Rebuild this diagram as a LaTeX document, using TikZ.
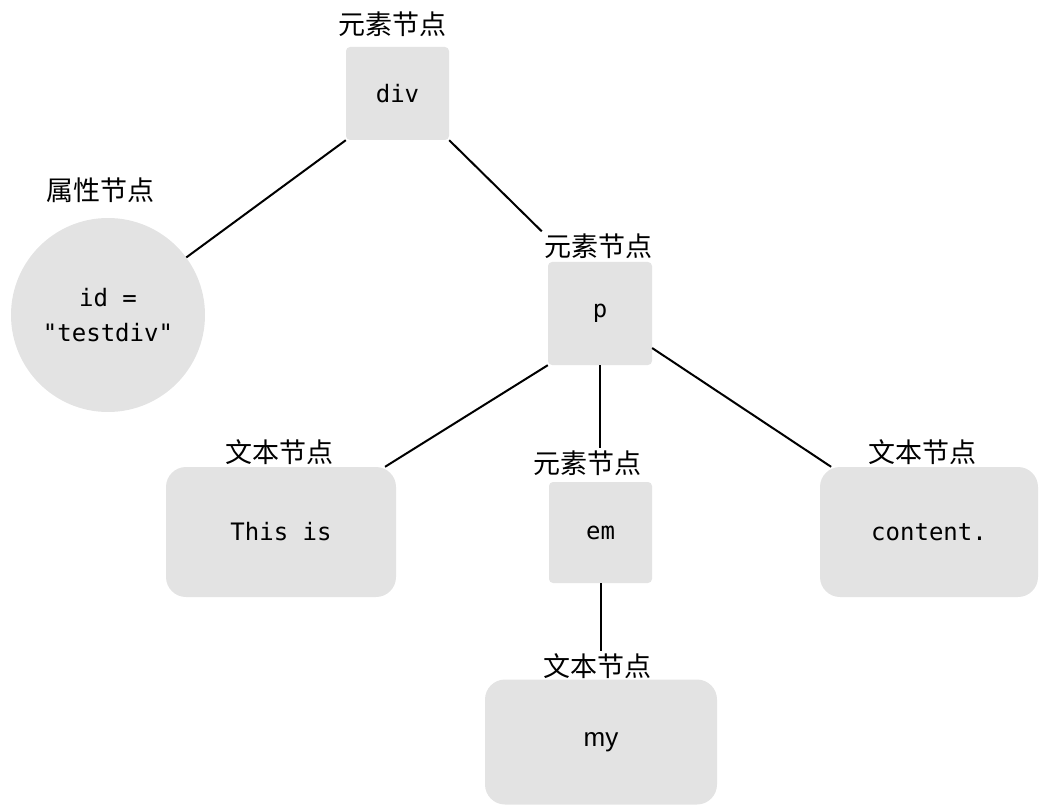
\documentclass[tikz,border=0pt]{standalone}
\usepackage{fontspec}
\usepackage{xcolor}
\setmainfont{Liberation Sans}
\setmonofont{DejaVu Sans Mono}
\newfontfamily\cjk{Noto Sans CJK SC}
\definecolor{nodegray}{RGB}{227,227,227}

\begin{document}
\begin{tikzpicture}[x=1pt, y=-1pt,
  elem/.style={fill=nodegray, rounded corners=4pt, minimum width=103pt, minimum height=100pt, font=\fontsize{24}{28}\selectfont\ttfamily},
  textnode/.style={fill=nodegray, rounded corners=20pt, minimum width=230pt, minimum height=130pt, font=\fontsize{24}{28}\selectfont\ttfamily},
  attrnode/.style={fill=nodegray, circle, minimum size=194pt, align=center, font=\fontsize{24}{35}\selectfont\ttfamily},
  kind/.style={inner sep=2pt, font=\fontsize{27}{30}\selectfont\cjk},
  link/.style={line width=2pt}]
  % Keep the reference margins
  \useasboundingbox (0,0) rectangle (1039,805);

  % The element and attribute nodes
  \node[elem, minimum height=93pt] (div) at (397.5,93.5) {div};
  \node[kind] (ldiv) at (392,24) {元素节点};
  \node[attrnode] (attr) at (108,315) {id =\\"testdiv"};
  \node[kind] (lattr) at (100,190) {属性节点};
  \node[elem, minimum width=104pt, minimum height=103pt] (p) at (600,313.5) {p};
  \node[kind] (lp) at (598,246) {元素节点};

  % The children of p
  \node[textnode] (this) at (281,532) {This is};
  \node[kind] (lthis) at (279,452) {文本节点};
  \node[elem, minimum height=101pt] (em) at (600.5,532.5) {em};
  \node[kind] (lem) at (587,463) {元素节点};
  \node[textnode, minimum width=218pt] (content) at (929,532) {content.};
  \node[kind] (lcontent) at (922,452) {文本节点};

  % The text inside em
  \node[textnode, minimum width=232pt, minimum height=125pt, font=\fontsize{26}{30}\selectfont] (my) at (601,742) {my};
  \node[kind] (lmy) at (597,666) {文本节点};

  % Connectors
  \draw[link] (div.south west) -- (attr);
  \draw[link] (div.south east) -- (lp.north west);
  \draw[link] (p.south west) -- (this);
  \draw[link] (p.south) -- (p.south |- lem.north);
  \draw[link] (p) -- (content);
  \draw[link] (em.south) -- (em.south |- lmy.north);
\end{tikzpicture}
\end{document}
